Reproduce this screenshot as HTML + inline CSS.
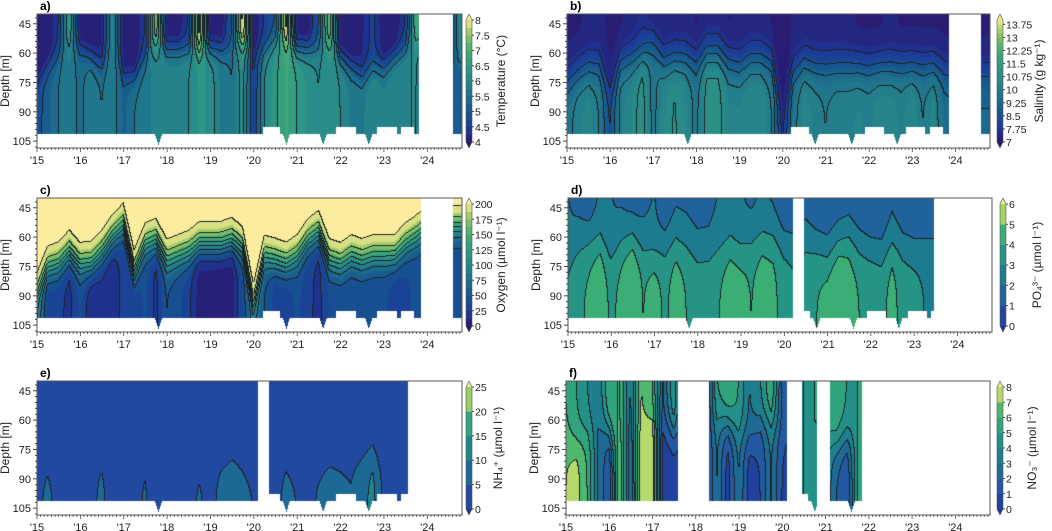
<!DOCTYPE html>
<html><head><meta charset="utf-8">
<style>
html,body{margin:0;padding:0;background:#fff;}
#wrap{position:relative;width:1052px;height:531px;overflow:hidden;font-family:"Liberation Sans",sans-serif;}
canvas{position:absolute;}
svg{position:absolute;left:0;top:0;}
</style></head>
<body>
<div id="wrap">
<svg id="svg" width="1052" height="531"></svg>
</div>
<script>
// ---- data: 40 quarterly columns 2015.00 .. 2024.75 ----
const years = ['\'15','\'16','\'17','\'18','\'19','\'20','\'21','\'22','\'23','\'24'];
const depthTicks = [45,60,75,90,105];

const aSurf=[4,4,4.5,6.5, 4,4,4.2,6, 4,4,4.5,7.5, 4,4,4.5,8.2, 4,4,5,8.2, 4,4.5,5,8.2, 4,4,5,7.5, 4,4,4.2,4.6, 4,4,4.5,7, 6,6,4,6];
const aDeep=[4.8,5.2,5.5,5.7, 5.4,5.7,5.5,5.7, 5.2,5.5,5.6,5.9, 5.9,5.9,6,6.3, 6.2,5.7,5.5,6.2, 4.5,6,6.4,6.8, 6.5,6.2,6,6.2, 6,5.7,5.7,6, 5.8,6,6,6, 5.5,5.5,5.3,5];
const aZc=[75,67,62,55, 58,62,67,58, 72,72,62,55, 58,58,58,58, 58,58,58,55, 62,58,54,54, 58,58,58,55, 62,67,72,67, 67,62,58,54, 60,60,65,65];

const bSurf=[7.2,7.2,7.3,7.3, 7.2,7.2,7.3,7.5, 7.2,7.3,7.3,7.3, 7.2,7.3,7.3,7.2, 7.3,7.3,7.3,7.2, 7.1,7.3,7.3,7.3, 7.3,7.3,7.3,7.2, 7.2,7.2,7.3,7.2, 7.2,7.2,7.2,7.2, 7.2,7.2,7.2,7.2];
const bDeep=[9.8,10.2,10.4,10, 8.5,10.2,10.5,11, 9.8,10.5,10.8,10.5, 9.8,11,11,10.3, 10.3,10.5,10.5,10, 7.6,9.8,10.4,10.2, 10,10.2,10.2,10.3, 10.2,10.4,10.4,10.2, 10.5,10,10.4,9.5, 9.3,9.3,9.3,9.3];
const bZc=[75,70,67,67, 80,65,63,60, 55,65,63,63, 65,60,60,65, 67,63,63,65, 92,70,65,67, 67,67,67,67, 68,67,67,67, 67,67,67,70, 70,70,70,70];

const cSurf=[210,210,210,210, 210,210,210,210, 210,210,210,210, 210,210,210,210, 210,210,210,210, 210,210,210,210, 210,210,210,210, 210,210,210,210, 210,210,210,210, 210,210,210,210];
const cDeep=[100,30,30,20, 40,15,20,15, 30,30,40,20, 50,40,30,5, 5,3,5,40, 80,50,30,30, 40,30,20,40, 40,40,40,40, 40,30,35,40, 40,40,40,40];
const cZc=[88,76,74,68, 74,74,68,60, 54,78,64,62, 72,70,68,64, 64,64,62,66, 94,70,72,74, 70,62,58,72, 74,70,72,70, 70,70,64,60, 55,55,55,55];

const dSurf=[2,1.8,1.5,2, 2,1.8,1.5,1.8, 2,1.5,1.8,1.8, 1.8,1.8,2,2, 2,1.8,2,1.8, 1.5,1.5,1.8,1.5, 1.5,1.5,1.5,1.5, 1.5,1.5,1.8,1.5, 1.5,1.5,1.5,1.5, 1.5,1.5,1.5,1.5];
const dDeep=[3.2,3.8,4.2,4.8, 3.8,4.3,5,4, 4.6,3.8,4.5,4, 4,3.8,4,4.5, 4.4,4,4.5,4.3, 3.6,3.2,3.9,4, 4.4,5,4.5,4, 4,3.7,4.4,3.6, 3.4,3,3,3, 3,3,3,3];
const dZc=[70,65,62,62, 70,62,60,66, 70,66,62,64, 72,70,66,62, 66,62,60,60, 65,65,66,66, 70,64,60,66, 70,70,64,66, 68,66,66,66, 66,66,66,66];

const eSurf=[2,2,2,2, 2,2,2,2, 2,2,2,2, 2,2,2,2, 2,2,2,2, 2,2,2,2, 2,2,2,2, 2,2,2,2, 2,2,2,2, 2,2,2,2];
const eDeep=[4,6,4,3, 3,4,6,3, 3,4,5.5,3, 3,3,4,5.5, 4,6,7,6, 5,3,4,6, 5,4,5.5,6.5, 6,5.5,8,12, 4,3,3,3, 3,3,3,3];
const eZc=[85,82,84,86, 88,84,80,86, 86,84,80,86, 88,86,84,82, 82,80,78,80, 84,86,84,80, 82,84,82,80, 80,82,80,78, 84,86,86,86, 86,86,86,86];

const fSurf=[6,5,4,3, 6,6,3,7, 6,2,5,0.5, 0.5,0.5,5,6, 5,3,4,6, 2,1,4,5, 6,6,5,5, 5,5,5,5, 5,5,5,5, 5,5,5,5];
const fDeep=[7,7.5,6,3, 1,7,2,8, 8,0.5,0.5,0.5, 0.5,0.5,3,0.5, 3,0.5,1,3, 1,0.5,4,5, 4,2,1,5, 5,5,5,5, 5,5,5,5, 5,5,5,5];
const fZc=[70,72,66,62, 66,72,60,64, 60,62,66,66, 66,66,60,62, 66,70,62,60, 66,66,60,60, 68,72,70,66, 66,66,66,66, 66,66,66,66, 66,66,66,66];

const gapsA=[[2023.8,2024.6]];
const gapsB=[[2023.85,2024.6]];
const gapsC=[[2023.85,2024.6]];
const gapsD=[[2020.2,2020.45],[2023.45,2025]];
const gapsE=[[2020.1,2020.35],[2023.55,2025]];
const gapsF=[[2017.6,2018.3],[2020.1,2020.45],[2020.8,2021.1],[2021.85,2025]];
const shallowBottom=[[2020.2,2020.6],[2021.9,2022.35],[2022.85,2023.3],[2023.4,2023.7]];
const deepNotches=[2017.8,2020.75,2021.6,2022.65];

const cbA=[4,4.5,5,5.5,6,6.5,7,7.5,8];
const cbB=[7,7.75,8.5,9.25,10,10.75,11.5,12.25,13,13.75];
const cbC=[0,25,50,75,100,125,150,175,200];
const cbD=[0,1,2,3,4,5,6];
const cbE=[0,5,10,15,20,25];
const cbF=[0,1,2,3,4,5,6,7,8];

// ---- colormaps ----
const cmap1=[[0,'#2a186c'],[0.12,'#1c3a98'],[0.25,'#16578f'],[0.38,'#1e718b'],[0.5,'#27878a'],[0.62,'#2f9a82'],[0.75,'#45ab74'],[0.88,'#8ec563'],[1,'#f4e88e']];
const cmap2=[[0,'#1f379c'],[0.18,'#2357a3'],[0.35,'#1b7190'],[0.5,'#1e878c'],[0.65,'#2a9f80'],[0.8,'#43b56f'],[0.92,'#a6d462'],[1,'#eeeb92']];
function hex(h){return [parseInt(h.substr(1,2),16),parseInt(h.substr(3,2),16),parseInt(h.substr(5,2),16)];}
function cm(map,f){f=Math.max(0,Math.min(1,f));for(let i=1;i<map.length;i++){if(f<=map[i][0]){const a=hex(map[i-1][1]),b=hex(map[i][1]);const u=(f-map[i-1][0])/(map[i][0]-map[i-1][0]);return [a[0]+(b[0]-a[0])*u,a[1]+(b[1]-a[1])*u,a[2]+(b[2]-a[2])*u];}}return hex(map[map.length-1][1]);}

const NS='http://www.w3.org/2000/svg';
const svg=document.getElementById('svg');
function el(tag,attrs,parent){const e=document.createElementNS(NS,tag);for(const k in attrs)e.setAttribute(k,attrs[k]);(parent||svg).appendChild(e);return e;}

const panels=[
 {id:'a',label:'a)',x0:37,x1:462,top:14,surf:aSurf,deep:aDeep,zc:aZc,w:3.5,min:4,max:8,bands:16,line:0.5,map:cmap1,gaps:gapsA,cb:cbA,title:'Temperature (°C)',cbx:466,tx:505},
 {id:'b',label:'b)',x0:567,x1:990,top:14,surf:bSurf,deep:bDeep,zc:bZc,w:5,min:7,max:14,bands:28,line:0.75,map:cmap1,gaps:gapsB,cb:cbB,title:'Salinity (g kg⁻¹)',cbx:997,tx:1043},
 {id:'c',label:'c)',x0:37,x1:462,top:198,surf:cSurf,deep:cDeep,zc:cZc,w:4,min:0,max:200,bands:16,line:25,map:cmap1,gaps:gapsC,cb:cbC,title:'Oxygen (µmol l⁻¹)',cbx:466,tx:505},
 {id:'d',label:'d)',x0:568,x1:992,top:198,surf:dSurf,deep:dDeep,zc:dZc,w:7,min:0,max:6,bands:6,line:1,map:cmap2,gaps:gapsD,cb:cbD,title:'PO₄³⁻ (µmol l⁻¹)',cbx:1000,tx:1041},
 {id:'e',label:'e)',x0:37,x1:462,top:381,surf:eSurf,deep:eDeep,zc:eZc,w:6,min:0,max:25,bands:5,line:5,map:cmap2,gaps:gapsE,cb:cbE,title:'NH₄⁺ (µmol l⁻¹)',cbx:466,tx:502},
 {id:'f',label:'f)',x0:566,x1:990,top:381,surf:fSurf,deep:fDeep,zc:fZc,w:6,min:0,max:8,bands:8,line:1,map:cmap2,gaps:gapsF,cb:cbF,title:'NO₃⁻ (µmol l⁻¹)',cbx:997,tx:1036}
];
const H=134, DMIN=40, DMAX=108.5, T0=2015, T1=2024.8;

function colVal(arr,t){const f=(t-T0)/0.25;let i=Math.floor(f);if(i<0)i=0;if(i>=arr.length-1)return arr[arr.length-1];const u=f-i;return arr[i]*(1-u)+arr[i+1]*u;}
function value(p,t,z){const s=colVal(p.surf,t),d=colVal(p.deep,t),c=colVal(p.zc,t);return s+(d-s)/(1+Math.exp(-(z-c)/p.w));}
function inGap(p,t){return p.gaps.some(g=>t>=g[0]&&t<=g[1]);}
function bottomAt(t){if(shallowBottom.some(g=>t>=g[0]&&t<=g[1]))return 98;for(const n of deepNotches){const d=Math.abs(t-n);if(d<0.08)return 101.5+5.5*(1-d/0.08);}return 101.5;}

panels.forEach(p=>{
  const W=p.x1-p.x0;
  const xs=t=>p.x0+(t-T0)/(T1-T0)*W;
  const ys=d=>p.top+(d-DMIN)/(DMAX-DMIN)*H;
  const g=el('g',{});
  
  
  const cv=document.createElement('canvas');
  cv.width=W;cv.height=H;cv.style.left=p.x0+'px';cv.style.top=p.top+'px';
  
  
  document.getElementById('wrap').insertBefore(cv,svg);
  const ctx=cv.getContext('2d');const img=ctx.createImageData(W,H);
  const step=(p.max-p.min)/p.bands;
  const ll=new Int16Array(W*H), msk=new Uint8Array(W*H);
  for(let j=0;j<H;j++){const z=DMIN+(j+0.5)/H*(DMAX-DMIN);
    for(let i=0;i<W;i++){const t=T0+(i+0.5)/W*(T1-T0);const k=j*W+i;
      if(inGap(p,t)||z>bottomAt(t)){msk[k]=1;continue;}
      const v=value(p,t,z);
      let q=Math.floor((v-p.min)/step);ll[k]=Math.floor((v-p.min)/p.line);
      let f;if(q>=p.bands)f=1.0;else if(q<0)f=0;else f=(q+0.5)/p.bands;
      let c=cm(p.map,f);if(q>=p.bands&&p.id==='c')c=[251,236,158];
      img.data[k*4]=c[0];img.data[k*4+1]=c[1];img.data[k*4+2]=c[2];img.data[k*4+3]=255;}}
  for(let j=0;j<H-1;j++)for(let i=0;i<W-1;i++){const k=j*W+i;if(msk[k])continue;
    if((!msk[k+1]&&ll[k+1]!==ll[k])||(!msk[k+W]&&ll[k+W]!==ll[k])){img.data[k*4]=30;img.data[k*4+1]=35;img.data[k*4+2]=40;}}
  ctx.putImageData(img,0,0);
  el('rect',{x:p.x0,y:p.top,width:W,height:H,fill:'none',stroke:'#555','stroke-width':1,},g);
  el('text',{x:p.x0+3,y:p.top-4,'font-size':12,'font-weight':'bold',fill:'#000',},g).textContent=p.label;
  for(let d=42;d<=108;d+=3){const y=ys(d);const major=depthTicks.includes(d);
    el('line',{x1:p.x0-(major?4:2),x2:p.x0,y1:y,y2:y,stroke:'#444','stroke-width':1},g);}
  depthTicks.forEach(d=>{const t=el('text',{x:p.x0-6,y:ys(d)+4,'font-size':11,'text-anchor':'end',fill:'#222'},g);
    t.textContent=d;});
  const yt=el('text',{x:0,y:0,'font-size':12,'text-anchor':'middle',fill:'#222',transform:`translate(${p.x0-28},${p.top+H/2}) rotate(-90)`},g);
  yt.textContent='Depth [m]';
  for(let m=0;m<=117;m++){const t=T0+m/12;const x=xs(t);const major=m%12===0;
    el('line',{x1:x,x2:x,y1:p.top+H,y2:p.top+H+(major?4:2),stroke:'#444','stroke-width':0.8},g);}
  years.forEach((lab,i)=>{const t=el('text',{x:xs(T0+i),y:p.top+H+16,'font-size':11,'text-anchor':'middle',fill:'#222'},g);
    t.textContent=lab;});
  const cb=el('g',{},g);
  const cy0=p.top+6,cy1=p.top+H-6,cw=6;
  for(let q=0;q<p.bands;q++){const c=cm(p.map,(q+0.5)/p.bands);
    const yA=cy1-(q+1)/p.bands*(cy1-cy0);
    el('rect',{x:p.cbx,y:yA,width:cw,height:(cy1-cy0)/p.bands+0.3,fill:`rgb(${c.map(Math.round).join(',')})`},cb);}
  const ct=p.id==='c'?'#fbec9e':`rgb(${cm(p.map,1).map(Math.round).join(',')})`;
  el('polygon',{points:`${p.cbx},${cy0} ${p.cbx+cw},${cy0} ${p.cbx+cw/2},${cy0-6}`,fill:ct},cb);
  el('polygon',{points:`${p.cbx},${cy1} ${p.cbx+cw},${cy1} ${p.cbx+cw/2},${cy1+6}`,fill:`rgb(${cm(p.map,0).map(Math.round).join(',')})`},cb);
  el('polygon',{points:`${p.cbx+cw/2},${cy0-6} ${p.cbx+cw},${cy0} ${p.cbx+cw},${cy1} ${p.cbx+cw/2},${cy1+6} ${p.cbx},${cy1} ${p.cbx},${cy0}`,fill:'none',stroke:'#555','stroke-width':0.6},cb);
  p.cb.forEach(v=>{const y=cy1-(v-p.min)/(p.max-p.min)*(cy1-cy0);
    el('line',{x1:p.cbx+cw,x2:p.cbx+cw+2,y1:y,y2:y,stroke:'#444'},cb);
    const t=el('text',{x:p.cbx+cw+3,y:y+4,'font-size':10.5,fill:'#222'},cb);
    t.textContent=v;});
  const tt=el('text',{x:0,y:0,'font-size':12,'text-anchor':'middle',fill:'#222',transform:`translate(${p.tx},${p.top+H/2}) rotate(-90)`},cb);
  tt.textContent=p.title;
});
</script>
</body></html>
